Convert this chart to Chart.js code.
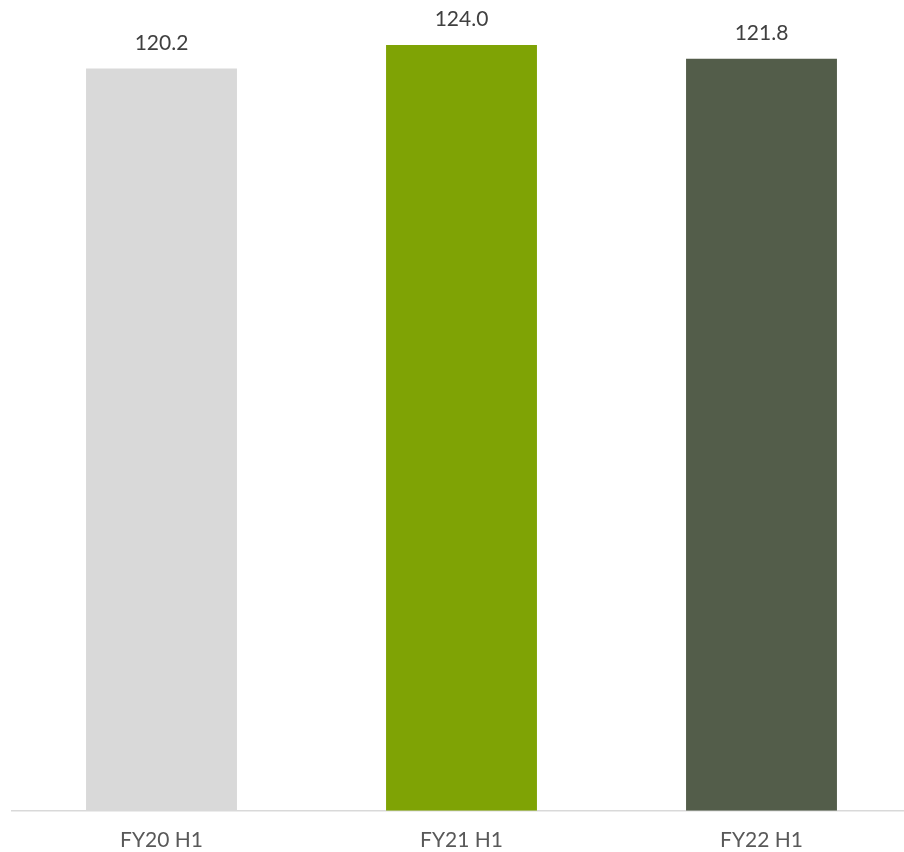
<!DOCTYPE html>
<html>
<head>
<meta charset="utf-8">
<script src="https://cdn.jsdelivr.net/npm/chart.js@4/dist/chart.umd.min.js"></script>
<style>
  html, body { margin: 0; padding: 0; background: #fff; overflow: hidden; }
  #wrap { position: relative; width: 920px; height: 862px; }
</style>
</head>
<body>
<div id="wrap"><canvas id="chart_h1"></canvas></div>
<script>
// data
var categories = ['FY20 H1', 'FY21 H1', 'FY22 H1'];
var values = [120.2, 124.0, 121.8];
var barColors = ['#D9D9D9', '#7FA305', '#535D4A'];

var valueLabels = {
    id: 'valueLabels',
    afterDatasetsDraw: function(chart) {
        var ctx = chart.ctx;
        var meta = chart.getDatasetMeta(0);
        ctx.save();
        ctx.fillStyle = '#404040';
        ctx.font = '21px Lato, "Noto Sans", sans-serif';
        ctx.textAlign = 'center';
        ctx.textBaseline = 'bottom';
        meta.data.forEach(function(bar, i) {
            ctx.fillText(values[i].toFixed(1), bar.x, bar.y - 15);
        });
        ctx.restore();
    }
};

var chart_h1 = new Chart(document.getElementById('chart_h1'), {
    type: 'bar',
    data: {
        labels: categories,
        datasets: [
            {
                data: values,
                backgroundColor: barColors,
                borderWidth: 0,
                categoryPercentage: 1.0,
                barPercentage: 0.503
            }
        ]
    },
    options: {
        animation: false,
        responsive: true,
        maintainAspectRatio: false,
        layout: {
            padding: { left: 11.5, right: 8.5, top: 8, bottom: 0 }
        },
        plugins: {
            legend: { display: false },
            tooltip: { enabled: false }
        },
        scales: {
            x: {
                grid: { display: false },
                border: { display: true, color: '#D9D9D9', width: 1.5 },
                ticks: {
                    color: '#595959',
                    font: { family: 'Lato, "Noto Sans", sans-serif', size: 21 },
                    padding: 9
                }
            },
            y: {
                display: false,
                min: 0,
                max: 130
            }
        }
    },
    plugins: [valueLabels]
});
</script>
</body>
</html>
